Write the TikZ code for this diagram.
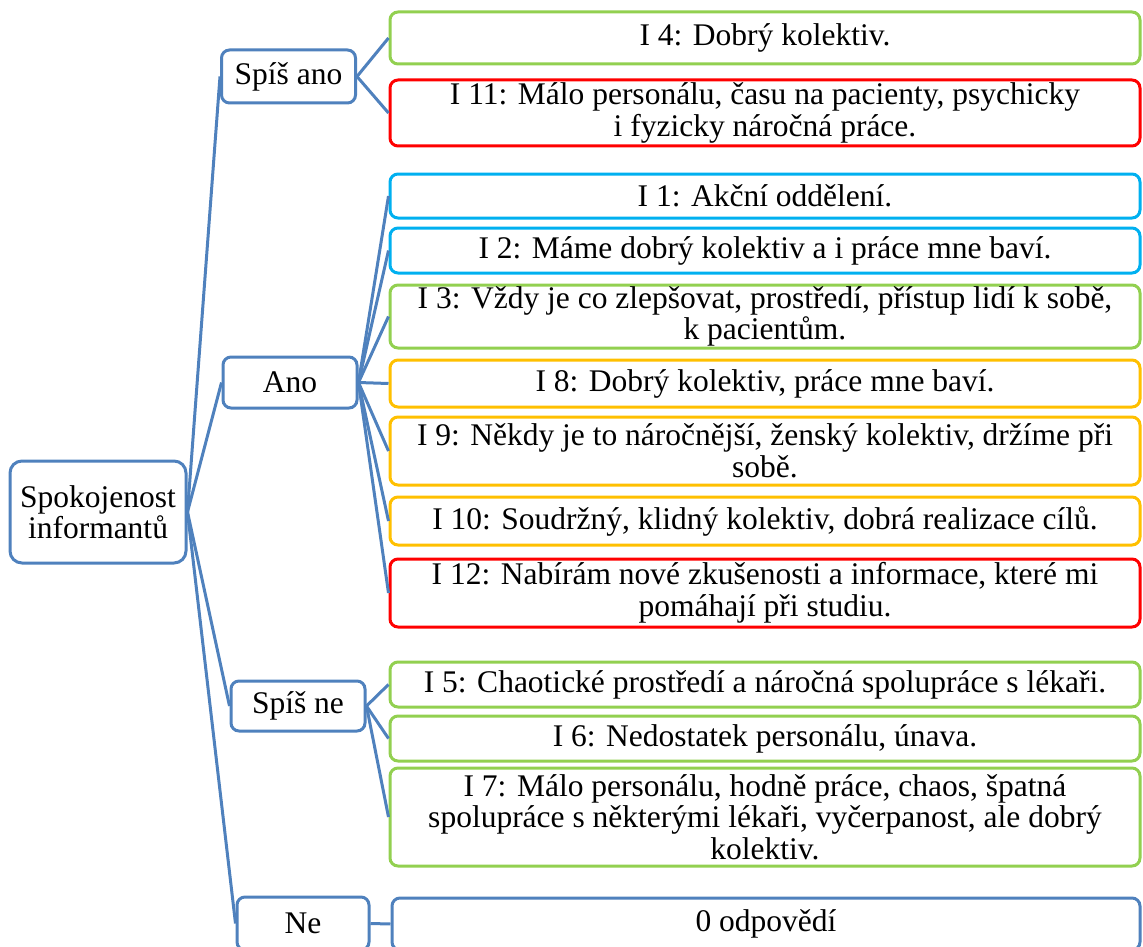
\documentclass[tikz,border=0pt]{standalone}
\usepackage{fontspec}
\setmainfont{Liberation Serif}
\definecolor{sablue}{HTML}{4F81BD}
\definecolor{sagreen}{HTML}{92D050}
\definecolor{sared}{HTML}{FF0000}
\definecolor{sacyan}{HTML}{00B0F0}
\definecolor{sagold}{HTML}{FFC000}
\begin{document}
\begin{tikzpicture}[x=1pt,y=-1pt,
  box/.style={draw, line width=3pt, rounded corners=8pt, fill=white, inner sep=0pt,
              align=center, font=\fontsize{31.5}{31.5}\selectfont},
  hub/.style={box, draw=sablue, minimum width=134pt},
  leaf/.style={box, minimum width=750pt},
  link/.style={draw=sablue, line width=3pt}]
\useasboundingbox (0,0) rectangle (1143,947);
\clip (0,0) rectangle (1143,947);

% root and hubs
\node[hub, minimum width=176pt, minimum height=102pt, rounded corners=12pt] (root) at (98,512) {Spokojenost\\informantů};
\node[hub, minimum height=53pt] (sano) at (288.5,76.5) {Spíš ano};
\node[hub, minimum height=51pt] (ano) at (290,382.5) {Ano};
\node[hub, minimum height=50pt] (sne) at (298,706) {Spíš ne};
\node[hub, minimum width=132pt, minimum height=53pt] (ne) at (303,923.5) {Ne};

% leaves
\node[leaf, draw=sagreen, minimum height=52pt] (i4) at (765,38) {I 4: Dobrý kolektiv.};
\node[leaf, draw=sared, minimum height=66pt] (i11) at (765,113) {I 11: Málo personálu, času na pacienty, psychicky\\i fyzicky náročná práce.};
\node[leaf, draw=sacyan, minimum height=44pt] (i1) at (765,196) {I 1: Akční oddělení.};
\node[leaf, draw=sacyan, minimum height=45pt] (i2) at (765,250.5) {I 2: Máme dobrý kolektiv a i práce mne baví.};
\node[leaf, draw=sagreen, minimum height=63pt] (i3) at (765,316.5) {I 3: Vždy je co zlepšovat, prostředí, přístup lidí k sobě,\\k pacientům.};
\node[leaf, draw=sagold, minimum height=47pt] (i8) at (765,383.5) {I 8: Dobrý kolektiv, práce mne baví.};
\node[leaf, draw=sagold, minimum height=68pt] (i9) at (765,451) {I 9: Někdy je to náročnější, ženský kolektiv, držíme při\\sobě.};
\node[leaf, draw=sagold, minimum height=48pt] (i10) at (765,521) {I 10: Soudržný, klidný kolektiv, dobrá realizace cílů.};
\node[leaf, draw=sared, minimum height=68pt] (i12) at (765,593) {I 12: Nabírám nové zkušenosti a informace, které mi\\pomáhají při studiu.};
\node[leaf, draw=sagreen, minimum height=45pt] (i5) at (765,684.5) {I 5: Chaotické prostředí a náročná spolupráce s lékaři.};
\node[leaf, draw=sagreen, minimum height=45pt] (i6) at (765,738.5) {I 6: Nedostatek personálu, únava.};
\node[leaf, draw=sagreen, minimum height=98pt] (i7) at (765,817) {I 7: Málo personálu, hodně práce, chaos, špatná\\spolupráce s některými lékaři, vyčerpanost, ale dobrý\\kolektiv.};
\node[leaf, draw=sablue, minimum width=748pt, minimum height=52pt] (i0) at (766,924) {0 odpovědí};

% connectors
\draw[link] (root.east) -- (sano.west);
\draw[link] (root.east) -- (ano.west);
\draw[link] (root.east) -- (sne.west);
\draw[link] (root.east) -- (ne.west);
\foreach \t in {i4,i11}{\draw[link] (sano.east) -- (\t.west);}
\foreach \t in {i1,i2,i3,i8,i9,i10,i12}{\draw[link] (ano.east) -- (\t.west);}
\foreach \t in {i5,i6,i7}{\draw[link] (sne.east) -- (\t.west);}
\draw[link] (ne.east) -- (i0.west);
\end{tikzpicture}
\end{document}
